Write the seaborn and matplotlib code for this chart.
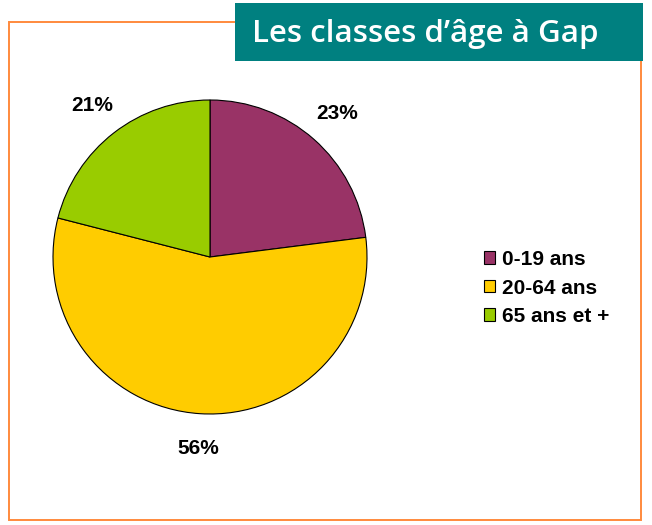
import matplotlib
matplotlib.use("Agg")
import matplotlib.pyplot as plt
import seaborn as sns
from matplotlib.patches import Rectangle, Patch

sns.set_theme(style="white")
plt.rcParams['font.family'] = ['Liberation Sans', 'DejaVu Sans']

# data
categories = ['0-19 ans', '20-64 ans', '65 ans et +']
shares = [23, 56, 21]
colors = ['#993366', '#FFCC00', '#99CC00']
title = "Les classes d\u2019âge à Gap"

W, H = 652, 525
fig = plt.figure(figsize=(W / 100, H / 100), dpi=100)
fig.patch.set_facecolor('white')

# orange frame
fig.patches.append(Rectangle((9 / W, 1 - 520 / H), 632 / W, 498 / H,
                             transform=fig.transFigure, fill=False,
                             edgecolor='#FF8A3D', linewidth=1.4, zorder=0))

# title box
fig.patches.append(Rectangle((235 / W, 1 - 61 / H), 408 / W, 58 / H,
                             transform=fig.transFigure, facecolor='#008080',
                             edgecolor='none', zorder=1))
fig.text(252 / W, 1 - 34 / H, title, color='white', fontsize=22.5,
         fontweight='semibold', family=['Open Sans', 'DejaVu Sans'],
         ha='left', va='center', zorder=2)

# pie
cx, cy, r = 210, 257, 157
ax = fig.add_axes([(cx - r) / W, (H - cy - r) / H, 2 * r / W, 2 * r / H])
wedges, texts, autotexts = ax.pie(
    shares, colors=colors, startangle=90, counterclock=False,
    autopct='%d%%', pctdistance=1.22,
    wedgeprops=dict(edgecolor='black', linewidth=0.8),
    textprops=dict(fontsize=15, fontweight='bold', color='black'))
ax.set_xlim(-1, 1)
ax.set_ylim(-1, 1)
ax.set_aspect('equal')
ax.axis('off')

# legend
handles = [Patch(facecolor=c, edgecolor='black', linewidth=0.8) for c in colors]
fig.legend(handles, categories, loc='center left',
           bbox_to_anchor=(465 / W, 1 - 288 / H), frameon=False,
           prop=dict(size=15, weight='bold'), labelcolor='black',
           handlelength=0.55, handleheight=0.55, handletextpad=0.35,
           labelspacing=0.45)

fig.savefig('out.png', dpi=100)
